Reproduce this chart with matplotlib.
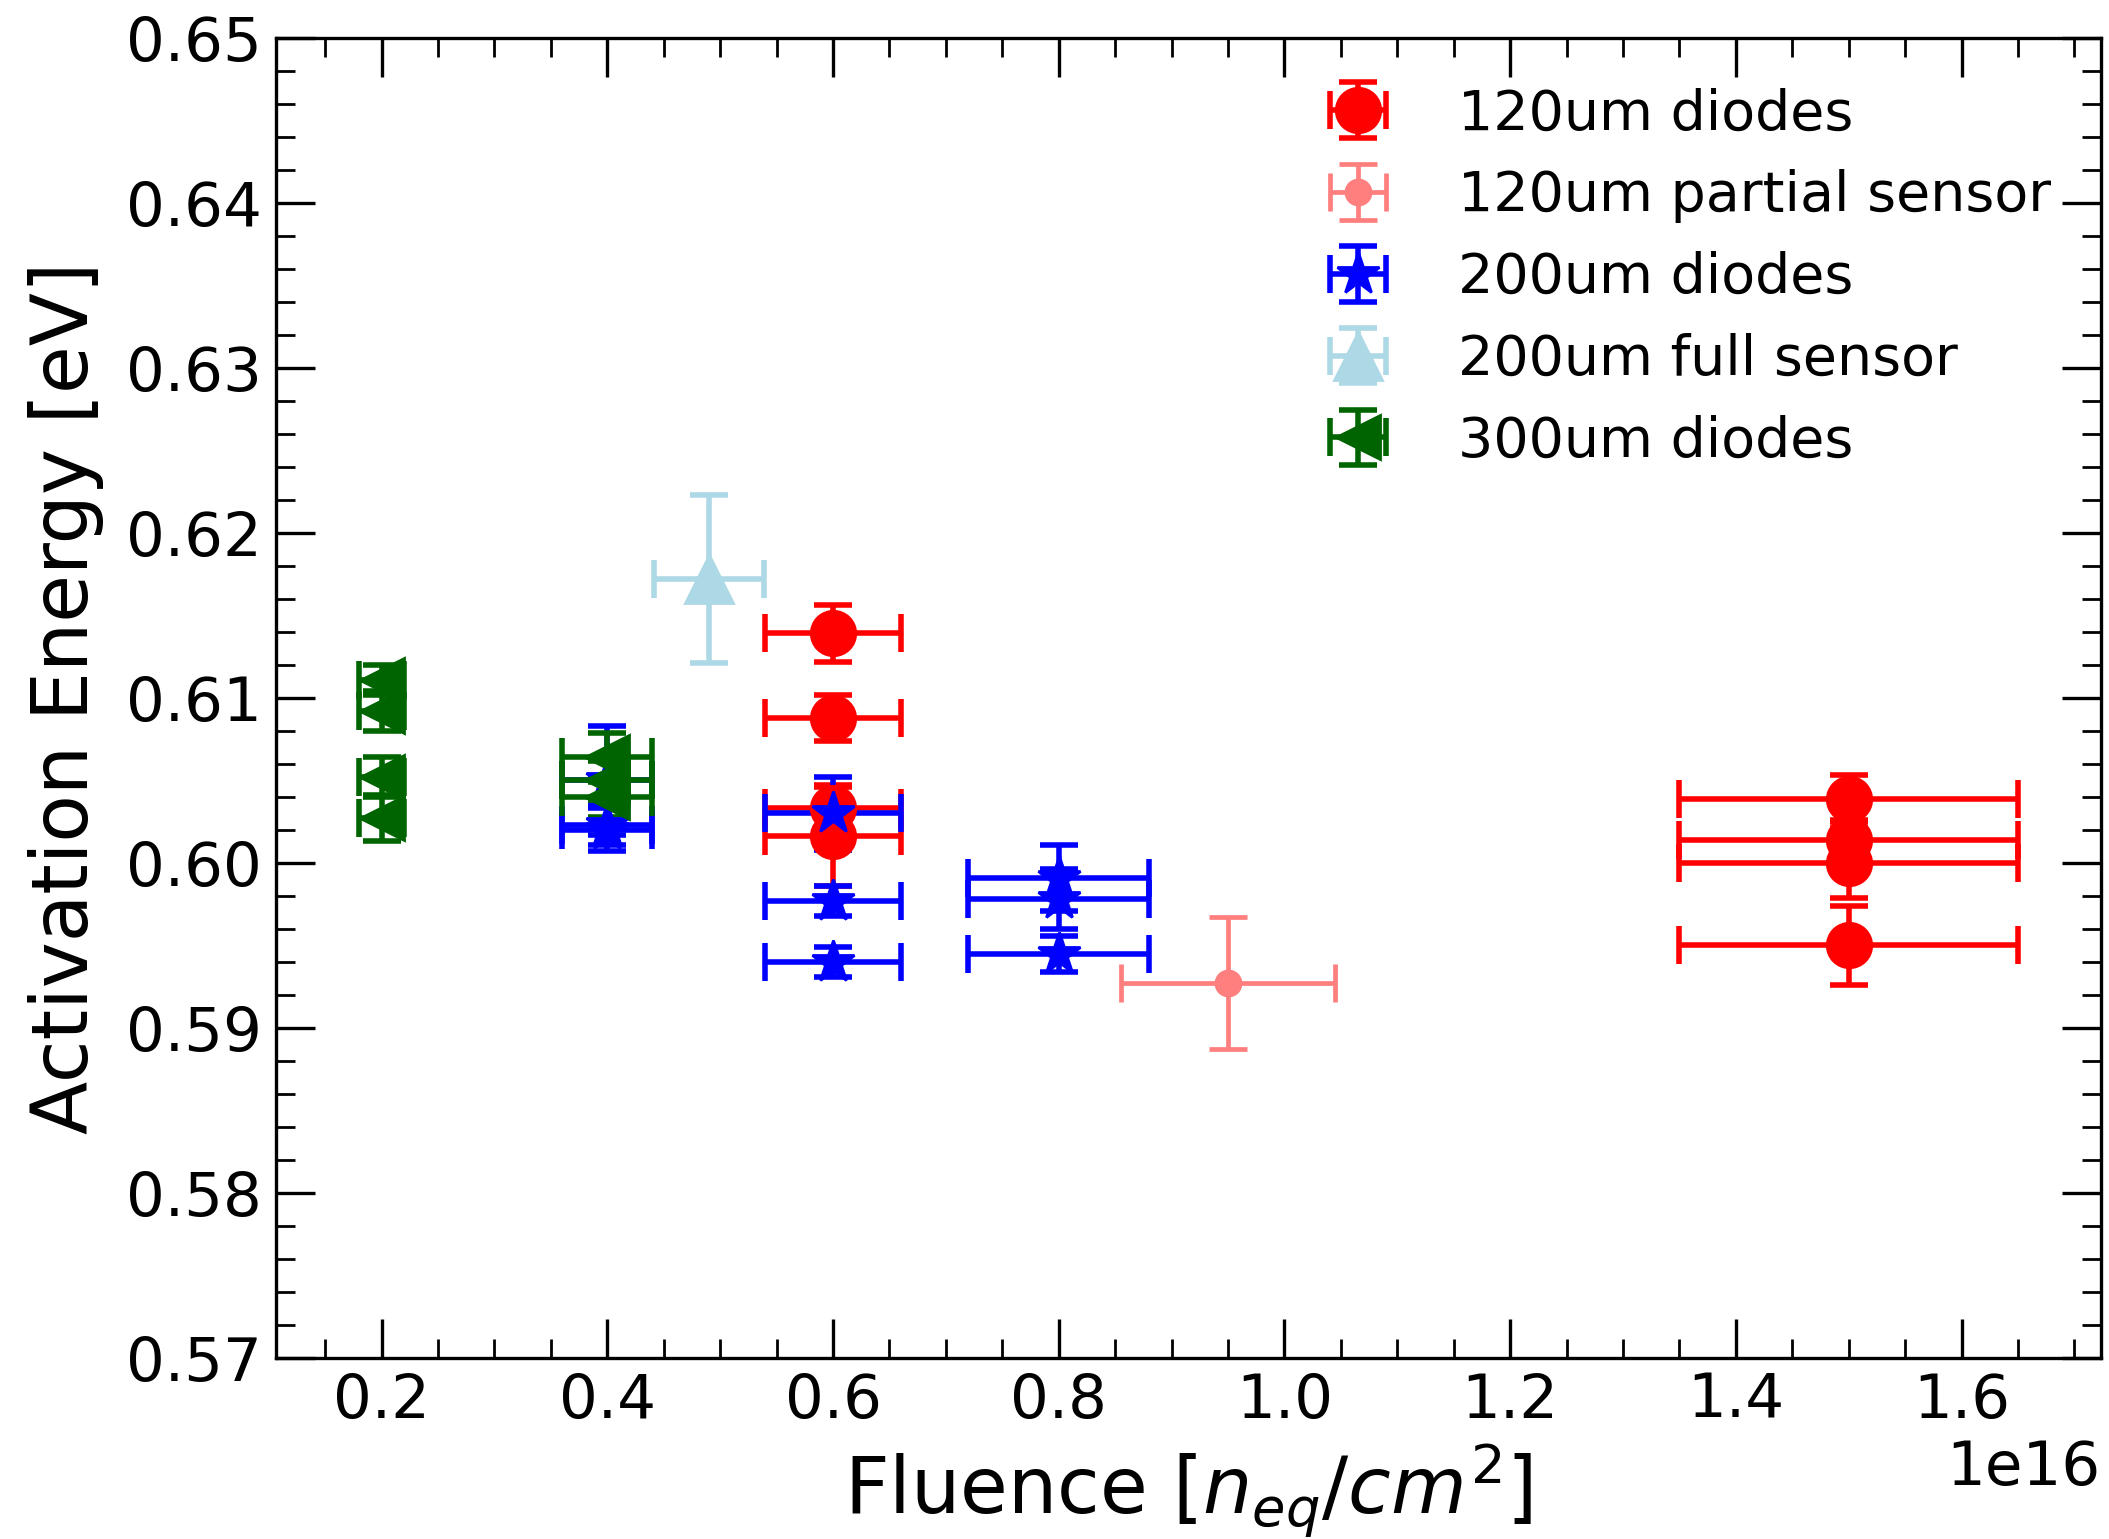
import matplotlib.pyplot as plt
from matplotlib.ticker import AutoMinorLocator

# fluence [neq/cm^2], activation energy [eV], error on energy [eV]
fl_120_diodes = [6e15, 6e15, 6e15, 6e15, 1.5e16, 1.5e16, 1.5e16, 1.5e16]
ea_120_diodes = [0.6139, 0.6088, 0.6033, 0.6016, 0.6039, 0.6014, 0.6000, 0.5950]
er_120_diodes = [0.0017, 0.0014, 0.0014, 0.0030, 0.0014, 0.0012, 0.0021, 0.0024]

fl_120_partial = [9.5e15]
ea_120_partial = [0.5927]
er_120_partial = [0.0040]

fl_200_diodes = [4e15, 4e15, 4e15, 6e15, 6e15, 6e15, 8e15, 8e15, 8e15]
ea_200_diodes = [0.6050, 0.6023, 0.6020, 0.6030, 0.5977, 0.5940, 0.5991, 0.5978, 0.5945]
er_200_diodes = [0.0033, 0.0012, 0.0013, 0.0022, 0.0009, 0.0009, 0.0020, 0.0018, 0.0011]

fl_200_full = [4.9e15]
ea_200_full = [0.6172]
er_200_full = [0.0051]

fl_300_diodes = [2e15, 2e15, 2e15, 2e15, 4e15, 4e15, 4e15]
ea_300_diodes = [0.6111, 0.6092, 0.6052, 0.6027, 0.6064, 0.6050, 0.6040]
er_300_diodes = [0.0009, 0.0012, 0.0012, 0.0014, 0.0015, 0.0012, 0.0012]

FLUENCE_REL_ERR = 0.10  # 10% uncertainty on fluence

series = [
    (fl_120_diodes, ea_120_diodes, er_120_diodes, "red", "o", 16, 2.0, "120um diodes"),
    (fl_120_partial, ea_120_partial, er_120_partial, "#ff7f7f", "o", 9, 1.7, "120um partial sensor"),
    (fl_200_diodes, ea_200_diodes, er_200_diodes, "blue", "*", 16, 2.0, "200um diodes"),
    (fl_200_full, ea_200_full, er_200_full, "lightblue", "^", 17, 2.0, "200um full sensor"),
    (fl_300_diodes, ea_300_diodes, er_300_diodes, "darkgreen", "<", 16, 2.0, "300um diodes"),
]

fig = plt.figure(figsize=(10.545, 7.695), dpi=200)
ax = fig.add_axes([0.1309, 0.1176, 0.8653, 0.8579])

for fl, ea, er, col, mk, ms, lw, lab in series:
    xerr = [FLUENCE_REL_ERR * f for f in fl]
    ax.errorbar(fl, ea, xerr=xerr, yerr=er, fmt=mk, color=col, ms=ms,
                elinewidth=lw, capsize=7, capthick=lw, label=lab)

ax.set_ylim(0.57, 0.65)
ax.xaxis.set_minor_locator(AutoMinorLocator())
ax.yaxis.set_minor_locator(AutoMinorLocator())
ax.tick_params(which="both", direction="in", top=True, right=True, labelsize=22, pad=5)
ax.tick_params(which="major", length=14, width=1.2)
ax.tick_params(which="minor", length=7, width=1.0)
for sp in ax.spines.values():
    sp.set_linewidth(1.2)
ax.xaxis.get_offset_text().set_fontsize(22)

ax.set_xlabel("Fluence [$n_{eq}/cm^2$]", fontsize=28)
ax.set_ylabel("Activation Energy [eV]", fontsize=28, labelpad=8)

ax.legend(loc="upper right", frameon=False, fontsize=20, labelspacing=0.5)

fig.savefig("out.png", dpi=200)
